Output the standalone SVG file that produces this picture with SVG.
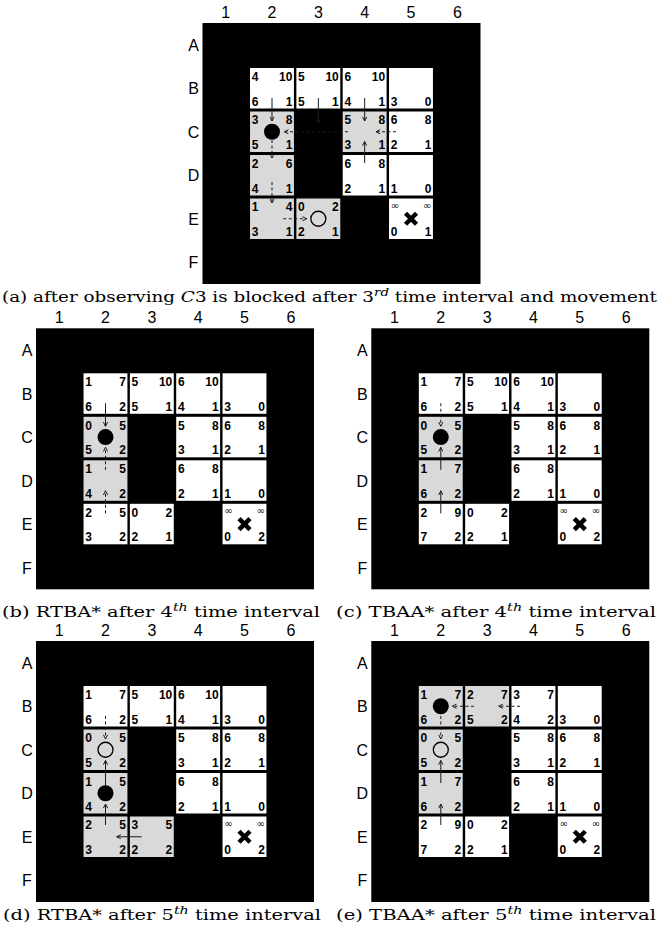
<svg xmlns="http://www.w3.org/2000/svg" width="662" height="942" viewBox="0 0 662 942">
<defs>
<style>
.bg{fill:#000}
.w{fill:#fff}
.g{fill:#d9d9d9}
.n{font-family:"Liberation Sans",Arial,sans-serif;font-weight:bold;font-size:12px;fill:#000}
.m{text-anchor:end}
.inf{font-family:"DejaVu Sans",sans-serif;font-size:10px;font-weight:normal}
.lbl{font-family:"Liberation Sans",Arial,sans-serif;font-size:16px;fill:#000;text-anchor:middle}
.cap{font-family:"DejaVu Serif","Liberation Serif",serif;font-size:15px;fill:#000}
.a{stroke:#1a1a1a;stroke-width:1;fill:none;marker-end:url(#ah)}
.d{stroke-dasharray:3 2.5}
.dot{fill:#000}
.ring{fill:none;stroke:#000;stroke-width:1.3}
.x{stroke:#000;stroke-width:4.5;fill:none}
</style>
<marker id="ah" viewBox="0 0 5 5" markerWidth="5" markerHeight="5" refX="4.6" refY="2.5" orient="auto" markerUnits="userSpaceOnUse">
<path d="M0.4,0.4 L4.6,2.5 L0.4,4.6" fill="none" stroke="#1a1a1a" stroke-width="1"/>
</marker>
<g id="labels">
<text class="lbl" x="23.17" y="-5">1</text><text class="lbl" x="69.5" y="-5">2</text><text class="lbl" x="115.83" y="-5">3</text><text class="lbl" x="162.17" y="-5">4</text><text class="lbl" x="208.5" y="-5">5</text><text class="lbl" x="254.83" y="-5">6</text>
<text class="lbl" x="-9" y="27.75">A</text><text class="lbl" x="-9" y="71.25">B</text><text class="lbl" x="-9" y="114.75">C</text><text class="lbl" x="-9" y="158.25">D</text><text class="lbl" x="-9" y="201.75">E</text><text class="lbl" x="-9" y="245.25">F</text>
</g>
</defs>

<!-- ============ (a) ============ -->
<g id="grid-a" transform="translate(202.5,23)">
<use href="#labels"/>
<rect class="bg" x="0" y="0" width="278" height="261"/>
<g id="a-B2"><rect class="w" x="47.53" y="45" width="43.9" height="40.5"/><text class="n" x="49.3" y="57.8">4</text><text class="n m" x="89.9" y="57.8">10</text><text class="n" x="49.3" y="82.5">6</text><text class="n m" x="89.9" y="82.5">1</text></g>
<g id="a-B3"><rect class="w" x="93.87" y="45" width="43.9" height="40.5"/><text class="n" x="95.6" y="57.8">5</text><text class="n m" x="136.3" y="57.8">10</text><text class="n" x="95.6" y="82.5">5</text><text class="n m" x="136.3" y="82.5">1</text></g>
<g id="a-B4"><rect class="w" x="140.2" y="45" width="43.9" height="40.5"/><text class="n" x="142" y="57.8">6</text><text class="n m" x="182.6" y="57.8">10</text><text class="n" x="142" y="82.5">4</text><text class="n m" x="182.6" y="82.5">1</text></g>
<g id="a-B5"><rect class="w" x="186.53" y="45" width="43.9" height="40.5"/><text class="n" x="188.3" y="82.5">3</text><text class="n m" x="228.9" y="82.5">0</text></g>
<g id="a-C2"><rect class="g" x="47.53" y="88.5" width="43.9" height="40.5"/><text class="n" x="49.3" y="101.3">3</text><text class="n m" x="89.9" y="101.3">8</text><text class="n" x="49.3" y="126">5</text><text class="n m" x="89.9" y="126">1</text><circle class="dot" cx="69.5" cy="108.75" r="8"/></g>
<g id="a-C4"><rect class="g" x="140.2" y="88.5" width="43.9" height="40.5"/><text class="n" x="142" y="101.3">5</text><text class="n m" x="182.6" y="101.3">8</text><text class="n" x="142" y="126">3</text><text class="n m" x="182.6" y="126">1</text></g>
<g id="a-C5"><rect class="w" x="186.53" y="88.5" width="43.9" height="40.5"/><text class="n" x="188.3" y="101.3">6</text><text class="n m" x="228.9" y="101.3">8</text><text class="n" x="188.3" y="126">2</text><text class="n m" x="228.9" y="126">1</text></g>
<g id="a-D2"><rect class="g" x="47.53" y="132" width="43.9" height="40.5"/><text class="n" x="49.3" y="144.8">2</text><text class="n m" x="89.9" y="144.8">6</text><text class="n" x="49.3" y="169.5">4</text><text class="n m" x="89.9" y="169.5">1</text></g>
<g id="a-D4"><rect class="w" x="140.2" y="132" width="43.9" height="40.5"/><text class="n" x="142" y="144.8">6</text><text class="n m" x="182.6" y="144.8">8</text><text class="n" x="142" y="169.5">2</text><text class="n m" x="182.6" y="169.5">1</text></g>
<g id="a-D5"><rect class="w" x="186.53" y="132" width="43.9" height="40.5"/><text class="n" x="188.3" y="169.5">1</text><text class="n m" x="228.9" y="169.5">0</text></g>
<g id="a-E2"><rect class="g" x="47.53" y="175.5" width="43.9" height="40.5"/><text class="n" x="49.3" y="188.3">1</text><text class="n m" x="89.9" y="188.3">4</text><text class="n" x="49.3" y="213">3</text><text class="n m" x="89.9" y="213">1</text></g>
<g id="a-E3"><rect class="g" x="93.87" y="175.5" width="43.9" height="40.5"/><text class="n" x="95.6" y="188.3">0</text><text class="n m" x="136.3" y="188.3">2</text><text class="n" x="95.6" y="213">2</text><text class="n m" x="136.3" y="213">1</text><circle class="ring" cx="115.83" cy="195.75" r="7.5"/></g>
<g id="a-E5"><rect class="w" x="186.53" y="175.5" width="43.9" height="40.5"/><text class="inf" x="188.3" y="185.5">∞</text><text class="inf m" x="228.9" y="185.5">∞</text><text class="n" x="188.3" y="213">0</text><text class="n m" x="228.9" y="213">1</text><path class="x" d="M203,190.25 L214,201.25 M214,190.25 L203,201.25"/></g>
<g id="a-connectors">
<line class="a" x1="69.5" y1="75" x2="69.5" y2="98"/>
<line class="a" x1="115.83" y1="75" x2="115.83" y2="100"/>
<line class="a" x1="162.17" y1="75" x2="162.17" y2="98"/>
<line class="a" x1="162.17" y1="140" x2="162.17" y2="118.5"/>
<line class="a d" x1="193.5" y1="108.75" x2="173.5" y2="108.75"/>
<line class="a d" x1="145.5" y1="108.75" x2="81.8" y2="108.75"/>
<line class="a d" x1="69.5" y1="117" x2="69.5" y2="135"/>
<line class="a d" x1="69.5" y1="159" x2="69.5" y2="180"/>
<line class="a d" x1="80.8" y1="195.75" x2="104.2" y2="195.75"/>
</g>
</g>
<text class="cap" x="2" y="302" textLength="655" lengthAdjust="spacingAndGlyphs">(a) after observing <tspan font-style="italic">C</tspan>3 is blocked after 3<tspan font-style="italic" font-size="11" dy="-6">rd</tspan><tspan dy="6"> time interval and movement</tspan></text>

<!-- ============ (b) ============ -->
<g id="grid-b" transform="translate(36,328.3)">
<use href="#labels"/>
<rect class="bg" x="0" y="0" width="278" height="261"/>
<g id="b-B2"><rect class="w" x="47.53" y="45" width="43.9" height="40.5"/><text class="n" x="49.3" y="57.8">1</text><text class="n m" x="89.9" y="57.8">7</text><text class="n" x="49.3" y="82.5">6</text><text class="n m" x="89.9" y="82.5">2</text></g>
<g id="b-B3"><rect class="w" x="93.87" y="45" width="43.9" height="40.5"/><text class="n" x="95.6" y="57.8">5</text><text class="n m" x="136.3" y="57.8">10</text><text class="n" x="95.6" y="82.5">5</text><text class="n m" x="136.3" y="82.5">1</text></g>
<g id="b-B4"><rect class="w" x="140.2" y="45" width="43.9" height="40.5"/><text class="n" x="142" y="57.8">6</text><text class="n m" x="182.6" y="57.8">10</text><text class="n" x="142" y="82.5">4</text><text class="n m" x="182.6" y="82.5">1</text></g>
<g id="b-B5"><rect class="w" x="186.53" y="45" width="43.9" height="40.5"/><text class="n" x="188.3" y="82.5">3</text><text class="n m" x="228.9" y="82.5">0</text></g>
<g id="b-C2"><rect class="g" x="47.53" y="88.5" width="43.9" height="40.5"/><text class="n" x="49.3" y="101.3">0</text><text class="n m" x="89.9" y="101.3">5</text><text class="n" x="49.3" y="126">5</text><text class="n m" x="89.9" y="126">2</text><circle class="dot" cx="69.5" cy="108.75" r="8"/></g>
<g id="b-C4"><rect class="w" x="140.2" y="88.5" width="43.9" height="40.5"/><text class="n" x="142" y="101.3">5</text><text class="n m" x="182.6" y="101.3">8</text><text class="n" x="142" y="126">3</text><text class="n m" x="182.6" y="126">1</text></g>
<g id="b-C5"><rect class="w" x="186.53" y="88.5" width="43.9" height="40.5"/><text class="n" x="188.3" y="101.3">6</text><text class="n m" x="228.9" y="101.3">8</text><text class="n" x="188.3" y="126">2</text><text class="n m" x="228.9" y="126">1</text></g>
<g id="b-D2"><rect class="g" x="47.53" y="132" width="43.9" height="40.5"/><text class="n" x="49.3" y="144.8">1</text><text class="n m" x="89.9" y="144.8">5</text><text class="n" x="49.3" y="169.5">4</text><text class="n m" x="89.9" y="169.5">2</text></g>
<g id="b-D4"><rect class="w" x="140.2" y="132" width="43.9" height="40.5"/><text class="n" x="142" y="144.8">6</text><text class="n m" x="182.6" y="144.8">8</text><text class="n" x="142" y="169.5">2</text><text class="n m" x="182.6" y="169.5">1</text></g>
<g id="b-D5"><rect class="w" x="186.53" y="132" width="43.9" height="40.5"/><text class="n" x="188.3" y="169.5">1</text><text class="n m" x="228.9" y="169.5">0</text></g>
<g id="b-E2"><rect class="w" x="47.53" y="175.5" width="43.9" height="40.5"/><text class="n" x="49.3" y="188.3">2</text><text class="n m" x="89.9" y="188.3">5</text><text class="n" x="49.3" y="213">3</text><text class="n m" x="89.9" y="213">2</text></g>
<g id="b-E3"><rect class="w" x="93.87" y="175.5" width="43.9" height="40.5"/><text class="n" x="95.6" y="188.3">0</text><text class="n m" x="136.3" y="188.3">2</text><text class="n" x="95.6" y="213">2</text><text class="n m" x="136.3" y="213">1</text></g>
<g id="b-E5"><rect class="w" x="186.53" y="175.5" width="43.9" height="40.5"/><text class="inf" x="188.3" y="185.5">∞</text><text class="inf m" x="228.9" y="185.5">∞</text><text class="n" x="188.3" y="213">0</text><text class="n m" x="228.9" y="213">2</text><path class="x" d="M203,190.25 L214,201.25 M214,190.25 L203,201.25"/></g>
<g id="b-connectors">
<line class="a" x1="69.5" y1="75" x2="69.5" y2="98"/>
<line class="a d" x1="69.5" y1="141.5" x2="69.5" y2="119"/>
<line class="a d" x1="69.5" y1="185" x2="69.5" y2="162.5"/>
</g>
</g>
<text class="cap" x="2" y="617" textLength="318" lengthAdjust="spacingAndGlyphs">(b) RTBA* after 4<tspan font-style="italic" font-size="11" dy="-6">th</tspan><tspan dy="6"> time interval</tspan></text>

<!-- ============ (c) ============ -->
<g id="grid-c" transform="translate(371.3,328.3)">
<use href="#labels"/>
<rect class="bg" x="0" y="0" width="278" height="261"/>
<g id="c-B2"><rect class="w" x="47.53" y="45" width="43.9" height="40.5"/><text class="n" x="49.3" y="57.8">1</text><text class="n m" x="89.9" y="57.8">7</text><text class="n" x="49.3" y="82.5">6</text><text class="n m" x="89.9" y="82.5">2</text></g>
<g id="c-B3"><rect class="w" x="93.87" y="45" width="43.9" height="40.5"/><text class="n" x="95.6" y="57.8">5</text><text class="n m" x="136.3" y="57.8">10</text><text class="n" x="95.6" y="82.5">5</text><text class="n m" x="136.3" y="82.5">1</text></g>
<g id="c-B4"><rect class="w" x="140.2" y="45" width="43.9" height="40.5"/><text class="n" x="142" y="57.8">6</text><text class="n m" x="182.6" y="57.8">10</text><text class="n" x="142" y="82.5">4</text><text class="n m" x="182.6" y="82.5">1</text></g>
<g id="c-B5"><rect class="w" x="186.53" y="45" width="43.9" height="40.5"/><text class="n" x="188.3" y="82.5">3</text><text class="n m" x="228.9" y="82.5">0</text></g>
<g id="c-C2"><rect class="g" x="47.53" y="88.5" width="43.9" height="40.5"/><text class="n" x="49.3" y="101.3">0</text><text class="n m" x="89.9" y="101.3">5</text><text class="n" x="49.3" y="126">5</text><text class="n m" x="89.9" y="126">2</text><circle class="dot" cx="69.5" cy="108.75" r="8"/></g>
<g id="c-C4"><rect class="w" x="140.2" y="88.5" width="43.9" height="40.5"/><text class="n" x="142" y="101.3">5</text><text class="n m" x="182.6" y="101.3">8</text><text class="n" x="142" y="126">3</text><text class="n m" x="182.6" y="126">1</text></g>
<g id="c-C5"><rect class="w" x="186.53" y="88.5" width="43.9" height="40.5"/><text class="n" x="188.3" y="101.3">6</text><text class="n m" x="228.9" y="101.3">8</text><text class="n" x="188.3" y="126">2</text><text class="n m" x="228.9" y="126">1</text></g>
<g id="c-D2"><rect class="g" x="47.53" y="132" width="43.9" height="40.5"/><text class="n" x="49.3" y="144.8">1</text><text class="n m" x="89.9" y="144.8">7</text><text class="n" x="49.3" y="169.5">6</text><text class="n m" x="89.9" y="169.5">2</text></g>
<g id="c-D4"><rect class="w" x="140.2" y="132" width="43.9" height="40.5"/><text class="n" x="142" y="144.8">6</text><text class="n m" x="182.6" y="144.8">8</text><text class="n" x="142" y="169.5">2</text><text class="n m" x="182.6" y="169.5">1</text></g>
<g id="c-D5"><rect class="w" x="186.53" y="132" width="43.9" height="40.5"/><text class="n" x="188.3" y="169.5">1</text><text class="n m" x="228.9" y="169.5">0</text></g>
<g id="c-E2"><rect class="w" x="47.53" y="175.5" width="43.9" height="40.5"/><text class="n" x="49.3" y="188.3">2</text><text class="n m" x="89.9" y="188.3">9</text><text class="n" x="49.3" y="213">7</text><text class="n m" x="89.9" y="213">2</text></g>
<g id="c-E3"><rect class="w" x="93.87" y="175.5" width="43.9" height="40.5"/><text class="n" x="95.6" y="188.3">0</text><text class="n m" x="136.3" y="188.3">2</text><text class="n" x="95.6" y="213">2</text><text class="n m" x="136.3" y="213">1</text></g>
<g id="c-E5"><rect class="w" x="186.53" y="175.5" width="43.9" height="40.5"/><text class="inf" x="188.3" y="185.5">∞</text><text class="inf m" x="228.9" y="185.5">∞</text><text class="n" x="188.3" y="213">0</text><text class="n m" x="228.9" y="213">2</text><path class="x" d="M203,190.25 L214,201.25 M214,190.25 L203,201.25"/></g>
<g id="c-connectors">
<line class="a d" x1="69.5" y1="75" x2="69.5" y2="98"/>
<line class="a" x1="69.5" y1="141.5" x2="69.5" y2="119"/>
<line class="a" x1="69.5" y1="185" x2="69.5" y2="162.5"/>
</g>
</g>
<text class="cap" x="336" y="617" textLength="320" lengthAdjust="spacingAndGlyphs">(c) TBAA* after 4<tspan font-style="italic" font-size="11" dy="-6">th</tspan><tspan dy="6"> time interval</tspan></text>

<!-- ============ (d) ============ -->
<g id="grid-d" transform="translate(36,641)">
<use href="#labels"/>
<rect class="bg" x="0" y="0" width="278" height="261"/>
<g id="d-B2"><rect class="w" x="47.53" y="45" width="43.9" height="40.5"/><text class="n" x="49.3" y="57.8">1</text><text class="n m" x="89.9" y="57.8">7</text><text class="n" x="49.3" y="82.5">6</text><text class="n m" x="89.9" y="82.5">2</text></g>
<g id="d-B3"><rect class="w" x="93.87" y="45" width="43.9" height="40.5"/><text class="n" x="95.6" y="57.8">5</text><text class="n m" x="136.3" y="57.8">10</text><text class="n" x="95.6" y="82.5">5</text><text class="n m" x="136.3" y="82.5">1</text></g>
<g id="d-B4"><rect class="w" x="140.2" y="45" width="43.9" height="40.5"/><text class="n" x="142" y="57.8">6</text><text class="n m" x="182.6" y="57.8">10</text><text class="n" x="142" y="82.5">4</text><text class="n m" x="182.6" y="82.5">1</text></g>
<g id="d-B5"><rect class="w" x="186.53" y="45" width="43.9" height="40.5"/><text class="n" x="188.3" y="82.5">3</text><text class="n m" x="228.9" y="82.5">0</text></g>
<g id="d-C2"><rect class="g" x="47.53" y="88.5" width="43.9" height="40.5"/><text class="n" x="49.3" y="101.3">0</text><text class="n m" x="89.9" y="101.3">5</text><text class="n" x="49.3" y="126">5</text><text class="n m" x="89.9" y="126">2</text><circle class="ring" cx="69.5" cy="108.75" r="7.5"/></g>
<g id="d-C4"><rect class="w" x="140.2" y="88.5" width="43.9" height="40.5"/><text class="n" x="142" y="101.3">5</text><text class="n m" x="182.6" y="101.3">8</text><text class="n" x="142" y="126">3</text><text class="n m" x="182.6" y="126">1</text></g>
<g id="d-C5"><rect class="w" x="186.53" y="88.5" width="43.9" height="40.5"/><text class="n" x="188.3" y="101.3">6</text><text class="n m" x="228.9" y="101.3">8</text><text class="n" x="188.3" y="126">2</text><text class="n m" x="228.9" y="126">1</text></g>
<g id="d-D2"><rect class="g" x="47.53" y="132" width="43.9" height="40.5"/><text class="n" x="49.3" y="144.8">1</text><text class="n m" x="89.9" y="144.8">5</text><text class="n" x="49.3" y="169.5">4</text><text class="n m" x="89.9" y="169.5">2</text><circle class="dot" cx="69.5" cy="152.25" r="8"/></g>
<g id="d-D4"><rect class="w" x="140.2" y="132" width="43.9" height="40.5"/><text class="n" x="142" y="144.8">6</text><text class="n m" x="182.6" y="144.8">8</text><text class="n" x="142" y="169.5">2</text><text class="n m" x="182.6" y="169.5">1</text></g>
<g id="d-D5"><rect class="w" x="186.53" y="132" width="43.9" height="40.5"/><text class="n" x="188.3" y="169.5">1</text><text class="n m" x="228.9" y="169.5">0</text></g>
<g id="d-E2"><rect class="g" x="47.53" y="175.5" width="43.9" height="40.5"/><text class="n" x="49.3" y="188.3">2</text><text class="n m" x="89.9" y="188.3">5</text><text class="n" x="49.3" y="213">3</text><text class="n m" x="89.9" y="213">2</text></g>
<g id="d-E3"><rect class="g" x="93.87" y="175.5" width="43.9" height="40.5"/><text class="n" x="95.6" y="188.3">3</text><text class="n m" x="136.3" y="188.3">5</text><text class="n" x="95.6" y="213">2</text><text class="n m" x="136.3" y="213">2</text></g>
<g id="d-E5"><rect class="w" x="186.53" y="175.5" width="43.9" height="40.5"/><text class="inf" x="188.3" y="185.5">∞</text><text class="inf m" x="228.9" y="185.5">∞</text><text class="n" x="188.3" y="213">0</text><text class="n m" x="228.9" y="213">2</text><path class="x" d="M203,190.25 L214,201.25 M214,190.25 L203,201.25"/></g>
<g id="d-connectors">
<line class="a d" x1="69.5" y1="75" x2="69.5" y2="98"/>
<line class="a" x1="69.5" y1="144.5" x2="69.5" y2="119.5"/>
<line class="a" x1="69.5" y1="184" x2="69.5" y2="163"/>
<line class="a" x1="105.7" y1="195.75" x2="80.7" y2="195.75"/>
</g>
</g>
<text class="cap" x="3" y="920" textLength="318" lengthAdjust="spacingAndGlyphs">(d) RTBA* after 5<tspan font-style="italic" font-size="11" dy="-6">th</tspan><tspan dy="6"> time interval</tspan></text>

<!-- ============ (e) ============ -->
<g id="grid-e" transform="translate(371.3,641)">
<use href="#labels"/>
<rect class="bg" x="0" y="0" width="278" height="261"/>
<g id="e-B2"><rect class="g" x="47.53" y="45" width="43.9" height="40.5"/><text class="n" x="49.3" y="57.8">1</text><text class="n m" x="89.9" y="57.8">7</text><text class="n" x="49.3" y="82.5">6</text><text class="n m" x="89.9" y="82.5">2</text><circle class="dot" cx="69.5" cy="65.25" r="8"/></g>
<g id="e-B3"><rect class="g" x="93.87" y="45" width="43.9" height="40.5"/><text class="n" x="95.6" y="57.8">2</text><text class="n m" x="136.3" y="57.8">7</text><text class="n" x="95.6" y="82.5">5</text><text class="n m" x="136.3" y="82.5">2</text></g>
<g id="e-B4"><rect class="w" x="140.2" y="45" width="43.9" height="40.5"/><text class="n" x="142" y="57.8">3</text><text class="n m" x="182.6" y="57.8">7</text><text class="n" x="142" y="82.5">4</text><text class="n m" x="182.6" y="82.5">2</text></g>
<g id="e-B5"><rect class="w" x="186.53" y="45" width="43.9" height="40.5"/><text class="n" x="188.3" y="82.5">3</text><text class="n m" x="228.9" y="82.5">0</text></g>
<g id="e-C2"><rect class="g" x="47.53" y="88.5" width="43.9" height="40.5"/><text class="n" x="49.3" y="101.3">0</text><text class="n m" x="89.9" y="101.3">5</text><text class="n" x="49.3" y="126">5</text><text class="n m" x="89.9" y="126">2</text><circle class="ring" cx="69.5" cy="108.75" r="7.5"/></g>
<g id="e-C4"><rect class="w" x="140.2" y="88.5" width="43.9" height="40.5"/><text class="n" x="142" y="101.3">5</text><text class="n m" x="182.6" y="101.3">8</text><text class="n" x="142" y="126">3</text><text class="n m" x="182.6" y="126">1</text></g>
<g id="e-C5"><rect class="w" x="186.53" y="88.5" width="43.9" height="40.5"/><text class="n" x="188.3" y="101.3">6</text><text class="n m" x="228.9" y="101.3">8</text><text class="n" x="188.3" y="126">2</text><text class="n m" x="228.9" y="126">1</text></g>
<g id="e-D2"><rect class="g" x="47.53" y="132" width="43.9" height="40.5"/><text class="n" x="49.3" y="144.8">1</text><text class="n m" x="89.9" y="144.8">7</text><text class="n" x="49.3" y="169.5">6</text><text class="n m" x="89.9" y="169.5">2</text></g>
<g id="e-D4"><rect class="w" x="140.2" y="132" width="43.9" height="40.5"/><text class="n" x="142" y="144.8">6</text><text class="n m" x="182.6" y="144.8">8</text><text class="n" x="142" y="169.5">2</text><text class="n m" x="182.6" y="169.5">1</text></g>
<g id="e-D5"><rect class="w" x="186.53" y="132" width="43.9" height="40.5"/><text class="n" x="188.3" y="169.5">1</text><text class="n m" x="228.9" y="169.5">0</text></g>
<g id="e-E2"><rect class="w" x="47.53" y="175.5" width="43.9" height="40.5"/><text class="n" x="49.3" y="188.3">2</text><text class="n m" x="89.9" y="188.3">9</text><text class="n" x="49.3" y="213">7</text><text class="n m" x="89.9" y="213">2</text></g>
<g id="e-E3"><rect class="w" x="93.87" y="175.5" width="43.9" height="40.5"/><text class="n" x="95.6" y="188.3">0</text><text class="n m" x="136.3" y="188.3">2</text><text class="n" x="95.6" y="213">2</text><text class="n m" x="136.3" y="213">1</text></g>
<g id="e-E5"><rect class="w" x="186.53" y="175.5" width="43.9" height="40.5"/><text class="inf" x="188.3" y="185.5">∞</text><text class="inf m" x="228.9" y="185.5">∞</text><text class="n" x="188.3" y="213">0</text><text class="n m" x="228.9" y="213">2</text><path class="x" d="M203,190.25 L214,201.25 M214,190.25 L203,201.25"/></g>
<g id="e-connectors">
<line class="a d" x1="102.7" y1="65.25" x2="81" y2="65.25"/>
<line class="a d" x1="148.7" y1="65.25" x2="127.4" y2="65.25"/>
<line class="a d" x1="69.5" y1="75" x2="69.5" y2="98"/>
<line class="a" x1="69.5" y1="142" x2="69.5" y2="119.5"/>
<line class="a" x1="69.5" y1="184" x2="69.5" y2="163"/>
</g>
</g>
<text class="cap" x="336" y="920" textLength="320" lengthAdjust="spacingAndGlyphs">(e) TBAA* after 5<tspan font-style="italic" font-size="11" dy="-6">th</tspan><tspan dy="6"> time interval</tspan></text>
</svg>
